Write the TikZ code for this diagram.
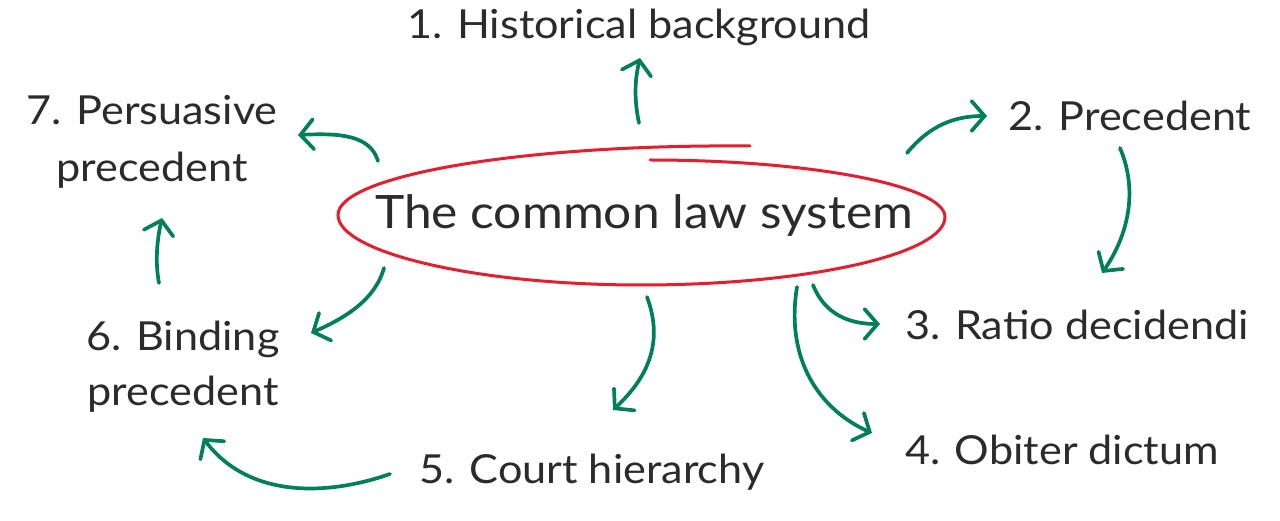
\documentclass[tikz,border=0pt]{standalone}
\usepackage{fontspec}
\setmainfont[FakeStretch=1.08]{Lato}
\usetikzlibrary{arrows.meta}
\definecolor{arrowgreen}{RGB}{0,128,88}
\definecolor{ringred}{RGB}{227,30,45}
\definecolor{inkgray}{RGB}{43,43,43}
\tikzset{
  lbl/.style={text=inkgray, inner sep=0pt, font=\fontsize{40}{52}\selectfont, align=center},
  mainlbl/.style={text=inkgray, inner sep=0pt, font=\fontsize{46}{56}\selectfont},
  conn/.style={draw=arrowgreen, line width=3.7pt, line cap=round, line join=round,
    -{Straight Barb[length=13pt,width=30pt,line width=3.7pt,line cap=round]}},
  ring/.style={draw=ringred, line width=3pt, line cap=round}
}
\begin{document}
\begin{tikzpicture}[x=1pt,y=-1pt]
\useasboundingbox[fill=white] (0,0) rectangle (1280,521);
% labels
\node[lbl] (t1) at (639,27) {1. Historical background};
\node[lbl] (t2) at (1130,116) {2. Precedent};
\node[lbl] (t3) at (1077,325) {3. Ratio decidendi};
\node[lbl] (t4) at (1062,450) {4. Obiter dictum};
\node[lbl] (t5) at (592,472) {5. Court hierarchy};
\node[lbl] (t6) at (183,367) {6. Binding\\[3pt]precedent};
\node[lbl] (t7) at (152,142) {7. Persuasive\\[5pt]precedent};
\node[mainlbl] (m) at (644,216) {The common law system};
% ring
\coordinate (r0) at (650,160);
\coordinate (r1) at (945,217);
\coordinate (r2) at (641,285);
\coordinate (r3) at (338,215);
\coordinate (r4) at (750,146);
\draw[ring] (r0) .. controls (813,160) and (945,186) .. (r1)
  .. controls (945,254) and (808,285) .. (r2)
  .. controls (474,285) and (338,252) .. (r3)
  .. controls (338,176) and (520,144) .. (r4);
% arrow end points
\coordinate (a1s) at (639,123); \coordinate (a1e) at (640,58);
\coordinate (a2s) at (907,153); \coordinate (a2e) at (987,116);
\coordinate (a3s) at (1120,148); \coordinate (a3e) at (1102,273);
\coordinate (a4s) at (813,285); \coordinate (a4e) at (880,324);
\coordinate (a5s) at (797,287); \coordinate (a5e) at (872,433);
\coordinate (a6s) at (647,297); \coordinate (a6e) at (613,410);
\coordinate (a7s) at (390,474); \coordinate (a7e) at (203,438);
\coordinate (a8s) at (384,268); \coordinate (a8e) at (311,333);
\coordinate (a9s) at (159,283); \coordinate (a9e) at (162,218);
\coordinate (a10s) at (378,161); \coordinate (a10e) at (298,135);
\draw[conn] (a1s) .. controls (633,95) and (636,75) .. (a1e);
\draw[conn] (a2s) .. controls (930,125) and (955,116) .. (a2e);
\draw[conn] (a3s) .. controls (1140,195) and (1125,240) .. (a3e);
\draw[conn] (a4s) .. controls (825,315) and (850,324) .. (a4e);
\draw[conn] (a5s) .. controls (785,360) and (820,410) .. (a5e);
\draw[conn] (a6s) .. controls (665,345) and (645,380) .. (a6e);
\draw[conn] (a7s) .. controls (330,495) and (250,500) .. (a7e);
\draw[conn] (a8s) .. controls (375,300) and (345,318) .. (a8e);
\draw[conn] (a9s) .. controls (155,262) and (157,240) .. (a9e);
\draw[conn] (a10s) .. controls (370,135) and (340,133) .. (a10e);
\end{tikzpicture}
\end{document}
